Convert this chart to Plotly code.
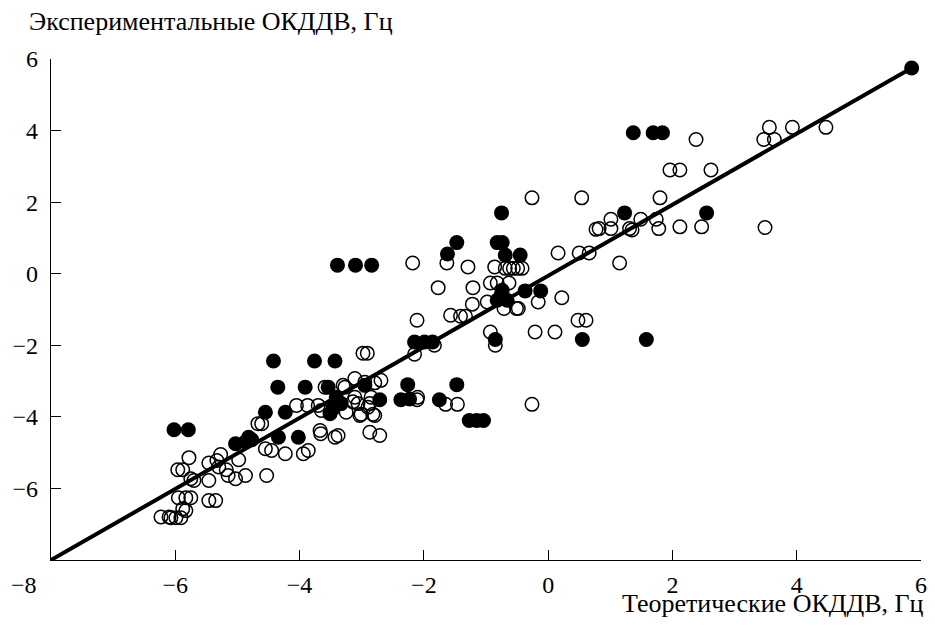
import plotly.graph_objects as go

# Open circles (theoretical, experimental), Hz
open_x = [3.56, 3.93, 4.47, 3.47, 3.64, 2.38,
          1.96, 2.12, 2.62, -0.26, 0.54, 1.80,
          1.01, 1.49, 1.74, 0.77, 0.82, 1.01, 1.31, 1.35, 1.78, 2.12, 2.47, 3.49,
          0.16, 0.50, 0.66, 1.15, -0.16, 0.22, -0.48, 0.48, 0.61, -0.21, 0.11,
          -2.18, -1.63, -1.29, -0.86, -0.69, -0.62, -0.56, -0.49, -0.42,
          -1.77, -1.21, -0.93, -0.82, -0.63, -1.22, -0.98, -0.51, -0.71,
          -1.57, -1.41, -1.33, -2.11, -0.93, -0.85, -2.15, -1.83,
          -2.11, -1.65, -1.46, -0.26,
          -2.98, -2.91, -3.11, -2.95, -2.79, -2.69, -3.59, -3.27, -3.30,
          -3.11, -2.85, -2.10, -3.06, -2.90, -3.25, -3.01, -2.82, -3.14, -2.87, -2.79, -3.03,
          -4.05, -3.87, -3.70, -3.65, -4.67, -4.61,
          -3.67, -3.66, -3.38, -2.87, -2.71,
          -5.78, -5.96, -5.88, -5.46, -5.33, -5.27, -5.30, -5.18, -4.98,
          -5.15, -5.03, -4.87, -5.46, -5.70, -4.53, -5.75,
          -5.95, -5.83, -5.75, -5.46, -5.35, -5.88, -5.83,
          -6.23, -6.10, -6.07, -5.99, -5.91,
          -4.23, -3.94, -3.86, -4.55, -4.45, -3.43]
open_y = [4.09, 4.09, 4.09, 3.75, 3.75, 3.75,
          2.90, 2.90, 2.90, 2.12, 2.12, 2.12,
          1.52, 1.52, 1.52, 1.24, 1.26, 1.26, 1.26, 1.22, 1.26, 1.31, 1.31, 1.29,
          0.58, 0.58, 0.58, 0.30, -0.79, -0.67, -0.97, -1.30, -1.30, -1.63, -1.63,
          0.30, 0.30, 0.19, 0.19, 0.15, 0.15, 0.15, 0.15, 0.15,
          -0.39, -0.39, -0.26, -0.26, -0.26, -0.85, -0.79, -0.97, -0.97,
          -1.16, -1.19, -1.19, -1.30, -1.63, -2.00, -2.25, -2.00,
          -3.52, -3.65, -3.65, -3.65,
          -2.22, -2.22, -2.93, -3.03, -3.05, -2.98, -3.17, -3.17, -3.12,
          -3.45, -3.45, -3.45, -3.63, -3.73, -3.87, -3.93, -3.93, -3.58, -3.63, -3.96, -3.96,
          -3.68, -3.68, -3.68, -3.82, -4.19, -4.19,
          -4.38, -4.47, -4.52, -4.43, -4.52,
          -5.14, -5.48, -5.48, -5.29, -5.22, -5.05, -5.40, -5.48, -5.20,
          -5.64, -5.73, -5.64, -5.78, -5.78, -5.64, -5.73,
          -6.26, -6.26, -6.26, -6.34, -6.34, -6.57, -6.62,
          -6.80, -6.80, -6.82, -6.82, -6.82,
          -5.03, -5.03, -4.94, -4.89, -4.94, -4.57]

# Filled circles
filled_x = [5.85, 1.37, 1.69, 1.84, 1.23, 2.55, -0.75, -1.47, -1.62, -0.82, -0.74,
            -0.69, -0.45, -3.39, -3.10, -2.84, -0.74, -0.37, -0.12, -0.82, -0.66, -0.76,
            -0.85, 0.55, 1.58, -2.15, -1.99, -1.86,
            -4.42, -3.76, -3.43, -4.35, -3.91, -3.54, -2.95, -2.26, -1.47,
            -2.37, -2.23, -2.71, -1.75, -3.41, -3.33, -3.46, -3.51,
            -4.55, -4.23, -1.27, -1.15, -1.04,
            -4.82, -4.34, -4.02, -6.02, -5.79, -5.03, -4.87, -4.77]
filled_y = [5.75, 3.94, 3.94, 3.94, 1.70, 1.70, 1.70, 0.87, 0.55, 0.87, 0.87,
            0.52, 0.52, 0.24, 0.24, 0.24, -0.46, -0.48, -0.48, -0.74, -0.74, -0.60,
            -1.84, -1.84, -1.84, -1.91, -1.91, -1.91,
            -2.44, -2.44, -2.44, -3.17, -3.17, -3.17, -3.12, -3.10, -3.10,
            -3.52, -3.50, -3.52, -3.52, -3.45, -3.63, -3.77, -3.91,
            -3.87, -3.87, -4.10, -4.10, -4.10,
            -4.57, -4.57, -4.57, -4.36, -4.36, -4.75, -4.70, -4.64]

# Regression line end points
line_x = [-8.0, 5.85]
line_y = [-8.0, 5.75]

tick_vals = [-6, -4, -2, 0, 2, 4, 6]
tick_text = ["\u22126", "\u22124", "\u22122", "0", "2", "4", "6"]
x_title = "Теоретические ОКДДВ, Гц"
y_title = "Экспериментальные ОКДДВ, Гц"

FONT = "Liberation Serif"

fig = go.Figure()
fig.add_trace(go.Scatter(x=line_x, y=line_y, mode="lines",
                         line=dict(color="black", width=4), hoverinfo="skip"))
fig.add_trace(go.Scatter(x=open_x, y=open_y, mode="markers",
                         marker=dict(symbol="circle-open", size=13.5, color="black",
                                     line=dict(width=1.5, color="black"))))
fig.add_trace(go.Scatter(x=filled_x, y=filled_y, mode="markers",
                         marker=dict(symbol="circle", size=15, color="black",
                                     line=dict(width=0))))

axis_common = dict(showline=True, linecolor="black", linewidth=1.3,
                   ticks="inside", ticklen=10, tickwidth=1.3, tickcolor="black",
                   showgrid=False, zeroline=False, mirror=False,
                   tickfont=dict(family=FONT, size=24, color="black"),
                   tickvals=tick_vals, ticktext=tick_text)

fig.update_layout(
    width=935, height=626,
    margin=dict(l=51, r=8, t=59, b=66),
    plot_bgcolor="white", paper_bgcolor="white",
    showlegend=False,
    font=dict(family=FONT, color="black"),
    xaxis=dict(range=[-8, 6], ticklabelstandoff=3, **axis_common),
    yaxis=dict(range=[-8, 6], ticklabelstandoff=7, **axis_common),
    annotations=[
        dict(text="\u22128", xref="paper", yref="paper", x=-0.031, y=0,
             xanchor="center", yanchor="top", yshift=-10, showarrow=False,
             font=dict(family=FONT, size=24, color="black")),
        dict(text=y_title, xref="paper", yref="paper", x=-0.028, y=1,
             xanchor="left", yanchor="bottom", yshift=21, showarrow=False,
             font=dict(family=FONT, size=26, color="black")),
        dict(text=x_title, xref="paper", yref="paper", x=1.006, y=0,
             xanchor="right", yanchor="top", yshift=-27, showarrow=False,
             font=dict(family=FONT, size=26, color="black")),
    ],
)

fig.write_html("out.html", config={"displayModeBar": False})
